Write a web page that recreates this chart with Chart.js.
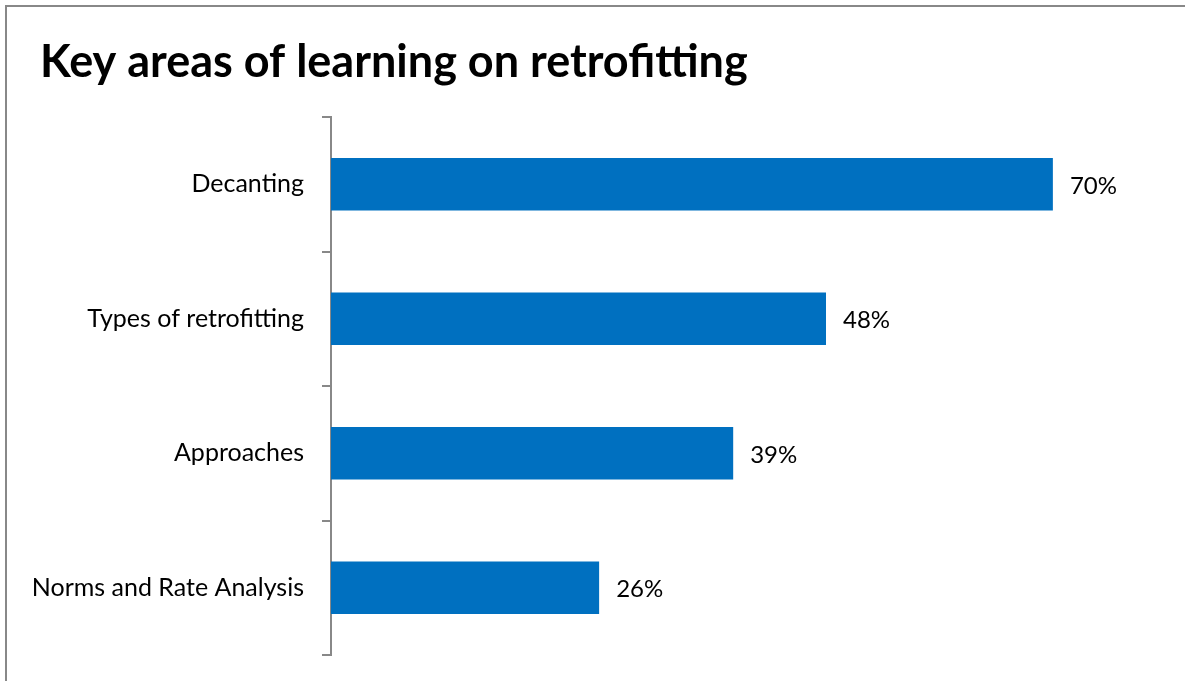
<!DOCTYPE html>
<html>
<head>
<meta charset="utf-8">
<script src="https://cdn.jsdelivr.net/npm/chart.js@4"></script>
<style>
  html, body { margin: 0; padding: 0; background: #fff; overflow: hidden; }
  #frame { position: absolute; left: 5px; top: 5px; width: 1300px; height: 800px; border-left: 2px solid #888; border-top: 2px solid #888; }
  #wrap { position: absolute; left: 0; top: 0; width: 1185px; height: 681px; }
</style>
</head>
<body>
<div id="frame"></div>
<div id="wrap"><canvas id="bar-chart"></canvas></div>
<script>
  var title = 'Key areas of learning on retrofitting';
  var categories = ["Decanting", "Types of retrofitting", "Approaches", "Norms and Rate Analysis"];
  var values = [70, 48, 39, 26];

  // title drawn by hand so it can sit further in than the axis labels
  var leftTitle = {
    id: 'leftTitle',
    afterDraw: function (chart) {
      var ctx = chart.ctx;
      ctx.save();
      ctx.font = 'bold 45px Lato';
      ctx.fillStyle = '#000';
      ctx.textAlign = 'left';
      ctx.textBaseline = 'middle';
      ctx.fillText(title, 40, 62);
      ctx.restore();
    }
  };

  // draws the "70%" labels to the right of each bar
  var valueLabels = {
    id: 'valueLabels',
    afterDatasetsDraw: function (chart) {
      var ctx = chart.ctx;
      var meta = chart.getDatasetMeta(0);
      ctx.save();
      ctx.font = '24px Lato';
      ctx.fillStyle = '#000';
      ctx.textAlign = 'left';
      ctx.textBaseline = 'middle';
      meta.data.forEach(function (bar, i) {
        ctx.fillText(values[i] + '%', bar.x + 17, bar.y + 2);
      });
      ctx.restore();
    }
  };

  new Chart(document.getElementById("bar-chart"), {
    type: 'bar',
    data: {
      labels: categories,
      datasets: [{
        data: values,
        backgroundColor: "#0070C0",
        barPercentage: 0.6,
        categoryPercentage: 0.65
      }]
    },
    plugins: [valueLabels, leftTitle],
    options: {
      indexAxis: 'y',
      responsive: true,
      maintainAspectRatio: false,
      animation: false,
      layout: { padding: { left: 15, right: 29, top: 117, bottom: 26 } },
      plugins: {
        legend: { display: false },
        tooltip: { enabled: false },
        title: { display: false }
      },
      scales: {
        x: { display: false, min: 0, max: 80 },
        y: {
          afterFit: function (scale) { scale.width = 316; scale.paddingTop = 0; scale.paddingBottom = 0; },
          grid: { drawOnChartArea: false, drawTicks: true, tickLength: 9, color: '#888', lineWidth: 2 },
          border: { display: true, color: '#888', width: 2 },
          ticks: { color: '#000', padding: 18, font: { family: 'Lato', size: 25 } }
        }
      }
    }
  });
</script>
</body>
</html>
